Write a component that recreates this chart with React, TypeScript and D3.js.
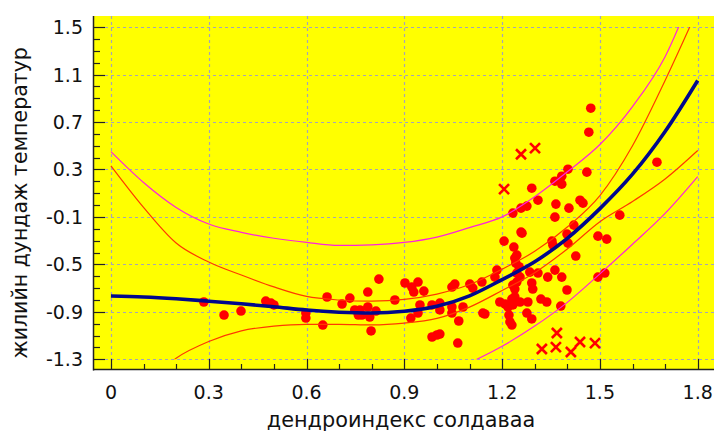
import React, { useRef, useEffect } from "react";
import * as d3 from "d3";

const W = 714;
const H = 433;

// regression curve and bands, sampled every 0.1 along x
const curveX = [0, 0.1, 0.2, 0.3, 0.4, 0.5, 0.6, 0.7, 0.8, 0.9, 1.0, 1.1, 1.2, 1.3, 1.4, 1.5, 1.6, 1.7, 1.8];
const fitY = [-0.767, -0.775, -0.79, -0.81, -0.832, -0.857, -0.885, -0.903, -0.91, -0.895, -0.853, -0.765, -0.628, -0.478, -0.28, -0.03, 0.26, 0.62, 1.05];
const innerUpperY = [0.33, -0.02, -0.32, -0.48, -0.59, -0.69, -0.77, -0.8, -0.81, -0.795, -0.75, -0.67, -0.54, -0.39, -0.185, 0.08, 0.5, 1.05, 1.65];
const innerLowerY = [-1.87, -1.53, -1.29, -1.15, -1.06, -1.02, -1.005, -1.005, -1.01, -0.995, -0.955, -0.86, -0.72, -0.57, -0.37, -0.14, 0.03, 0.22, 0.46];
const outerUpperY = [0.45, 0.19, -0.02, -0.16, -0.23, -0.28, -0.315, -0.34, -0.335, -0.315, -0.27, -0.19, -0.1, 0.07, 0.28, 0.51, 0.83, 1.25, 1.9];
const outerLowerX = [1.1, 1.2, 1.3, 1.4, 1.5, 1.6, 1.7, 1.8];
const outerLowerY = [-1.33, -1.19, -1.02, -0.82, -0.58, -0.33, -0.07, 0.24];

// observations
const dotX = [
  0.285, 0.347, 0.399, 0.475, 0.491, 0.5, 0.598, 0.598, 0.65, 0.663,
  0.709, 0.733, 0.748, 0.764, 0.788, 0.813, 0.794, 0.77, 0.798, 0.788,
  0.822, 0.871, 0.902, 0.923, 0.942, 0.929, 0.96, 0.948, 0.92, 0.942,
  0.985, 1.009, 1.009, 1.046, 1.055, 1.046, 1.046, 1.08, 1.067, 0.985,
  1.0, 1.009, 1.064, 1.101, 1.11, 1.138, 1.141, 1.184, 1.178, 1.206,
  1.236, 1.258, 1.245, 1.239, 1.233, 1.258, 1.276, 1.291, 1.31, 1.362,
  1.383, 1.402, 1.383, 1.365, 1.405, 1.362, 1.439, 1.448, 1.46, 1.466,
  1.472, 1.675, 1.561, 1.42, 1.261, 1.353, 1.356, 1.399, 1.402, 1.426,
  1.494, 1.521, 1.494, 1.515, 1.245, 1.255, 1.245, 1.285, 1.31, 1.34,
  1.362, 1.383, 1.233, 1.239, 1.291, 1.294, 1.399, 1.239, 1.23, 1.193,
  1.209, 1.218, 1.233, 1.255, 1.279, 1.319, 1.337, 1.38, 1.147, 1.221,
  1.276, 1.291, 1.224, 1.23, 1.252, 1.242, 0.759,
];
const dotY = [
  -0.817, -0.927, -0.893, -0.809, -0.826, -0.842, -0.91, -0.952, -1.011, -0.775,
  -0.834, -0.784, -0.884, -0.884, -0.859, -0.893, -0.944, -0.927, -1.061, -0.733,
  -0.624, -0.8, -0.657, -0.691, -0.649, -0.733, -0.725, -0.842, -0.952, -0.91,
  -0.842, -0.826, -0.884, -0.691, -0.666, -0.859, -0.91, -0.859, -0.977, -1.112,
  -1.095, -1.087, -1.163, -0.666, -0.7, -0.649, -0.91, -0.548, -0.607, -0.304,
  -0.354, -0.228, -0.422, -0.447, -0.068, -0.026, -0.009, 0.142, 0.041, 0.201,
  0.243, 0.302, 0.176, 0.008, -0.026, -0.102, 0.041, 0.016, 0.277, 0.614,
  0.816, 0.361, -0.085, -0.169, -0.237, -0.304, -0.338, -0.245, -0.321, -0.43,
  -0.262, -0.287, -0.607, -0.573, -0.573, -0.607, -0.649, -0.565, -0.573, -0.607,
  -0.548, -0.607, -0.674, -0.708, -0.657, -0.708, -0.716, -0.775, -0.792, -0.817,
  -0.834, -0.859, -0.842, -0.817, -0.817, -0.792, -0.817, -0.851, -0.918, -0.927,
  -0.91, -0.96, -0.985, -1.011, -0.52, -0.49, -0.927,
];

// excluded points (crosses)
const crossX = [1.206, 1.258, 1.301, 1.322, 1.365, 1.368, 1.411, 1.439, 1.485];
const crossY = [0.134, 0.428, 0.479, -1.213, -1.197, -1.078, -1.238, -1.154, -1.163];

const xTicks = [0, 0.3, 0.6, 0.9, 1.2, 1.5, 1.8];
const yTicks = [-1.3, -0.9, -0.5, -0.1, 0.3, 0.7, 1.1, 1.5];

const xTitle = "дендроиндекс солдаваа";
const yTitle = "жилийн дундаж температур";

const App = () => {
  const ref = useRef<SVGSVGElement>(null);

  useEffect(() => {
    const svg = d3.select(ref.current);
    svg.selectAll("*").remove();

    const margin = { top: 16, right: 0, bottom: 63, left: 93 };
    const font = "'DejaVu Sans', Verdana, sans-serif";

    const x = d3.scaleLinear().domain([-0.055, 1.85]).range([margin.left, W - margin.right]);
    const y = d3.scaleLinear().domain([-1.39, 1.593]).range([H - margin.bottom, margin.top]);

    const [x0, x1] = x.range();
    const [yb, yt] = y.range();

    svg.append("rect").attr("x", x0).attr("y", yt).attr("width", x1 - x0).attr("height", yb - yt).attr("fill", "#ffff00");

    // grid
    const grid = svg.append("g").attr("stroke", "#a4a4b8").attr("stroke-width", 1.2).attr("stroke-dasharray", "3,3");
    grid.selectAll("line.gx").data(xTicks).join("line")
      .attr("x1", (d) => Math.round(x(d)) + 0.5).attr("x2", (d) => Math.round(x(d)) + 0.5)
      .attr("y1", yt).attr("y2", yb);
    grid.selectAll("line.gy").data(yTicks).join("line")
      .attr("y1", (d) => Math.round(y(d)) + 0.5).attr("y2", (d) => Math.round(y(d)) + 0.5)
      .attr("x1", x0).attr("x2", x1);

    // clip for curves
    svg.append("clipPath").attr("id", "clipBand").append("rect")
      .attr("x", x0).attr("width", x1 - x0)
      .attr("y", y(1.5)).attr("height", y(-1.3) - y(1.5));

    // dots
    svg.append("g").selectAll("circle").data(dotX).join("circle")
      .attr("cx", (d) => x(d)).attr("cy", (_, i) => y(dotY[i]))
      .attr("r", 4.8).attr("fill", "#ff0000");

    // crosses
    svg.append("g").selectAll("path").data(crossX).join("path")
      .attr("transform", (d, i) => `translate(${x(d)},${y(crossY[i])})`)
      .attr("d", "M-5,-5L5,5M-5,5L5,-5")
      .attr("stroke", "#ff0000").attr("stroke-width", 2.6).attr("fill", "none");

    const line = (xs: number[], ys: number[]) =>
      d3.line<number>().x((d) => x(d)).y((_, i) => y(ys[i])).curve(d3.curveMonotoneX)(xs);

    const curves = svg.append("g").attr("clip-path", "url(#clipBand)").attr("fill", "none");
    curves.append("path").attr("d", line(curveX, outerUpperY)).attr("stroke", "#ff22dd").attr("stroke-width", 1.2);
    curves.append("path").attr("d", line(outerLowerX, outerLowerY)).attr("stroke", "#ff22dd").attr("stroke-width", 1.2);
    curves.append("path").attr("d", line(curveX, innerUpperY)).attr("stroke", "#ff3a00").attr("stroke-width", 1.2);
    curves.append("path").attr("d", line(curveX, innerLowerY)).attr("stroke", "#ff3a00").attr("stroke-width", 1.2);
    curves.append("path").attr("d", line(curveX, fitY)).attr("stroke", "#00088c").attr("stroke-width", 3.6);

    // axes lines
    svg.append("line").attr("x1", x0 + 0.5).attr("x2", x0 + 0.5).attr("y1", yt).attr("y2", yb + 0.5)
      .attr("stroke", "#222").attr("stroke-width", 1.5);
    svg.append("line").attr("x1", x0).attr("x2", x1).attr("y1", yb - 0.5).attr("y2", yb - 0.5)
      .attr("stroke", "#222").attr("stroke-width", 1.5);

    // ticks (inward)
    const xMinor = d3.range(0, 19).map((i) => i / 10);
    const yMinor = d3.range(0, 29).map((i) => -1.3 + i / 10);
    const tk = svg.append("g").attr("stroke", "#222").attr("stroke-width", 1.2);
    tk.selectAll("line.xm").data(xMinor).join("line")
      .attr("x1", (d) => Math.round(x(d)) + 0.5).attr("x2", (d) => Math.round(x(d)) + 0.5)
      .attr("y1", yb).attr("y2", (d, i) => yb - (i % 3 === 0 ? 11 : 6));
    tk.selectAll("line.ym").data(yMinor).join("line")
      .attr("y1", (d) => Math.round(y(d)) + 0.5).attr("y2", (d) => Math.round(y(d)) + 0.5)
      .attr("x1", x0).attr("x2", (d, i) => x0 + (i % 4 === 0 ? 12 : 7));

    // tick labels
    svg.append("g").selectAll("text").data(yTicks).join("text")
      .attr("x", x0 - 10).attr("y", (d) => y(d) + 7)
      .attr("text-anchor", "end").attr("font-family", font).attr("font-size", 19).attr("fill", "#111")
      .text((d) => d.toFixed(1));
    svg.append("g").selectAll("text").data(xTicks).join("text")
      .attr("x", (d) => x(d)).attr("y", yb + 29)
      .attr("text-anchor", "middle").attr("font-family", font).attr("font-size", 19).attr("fill", "#111")
      .text((d) => (d === 0 ? "0" : d.toFixed(1)));

    // titles
    svg.append("text").attr("x", 401).attr("y", 427)
      .attr("text-anchor", "middle").attr("font-family", font).attr("font-size", 20.8).attr("fill", "#111")
      .text(xTitle);
    svg.append("text").attr("transform", "translate(27,203) rotate(-90)")
      .attr("text-anchor", "middle").attr("font-family", font).attr("font-size", 20.5).attr("fill", "#111")
      .text(yTitle);
  }, []);

  return (
    <svg ref={ref} width={W} height={H} style={{ position: "absolute", left: 0, top: 0, background: "#fff" }} />
  );
};

export default App;
